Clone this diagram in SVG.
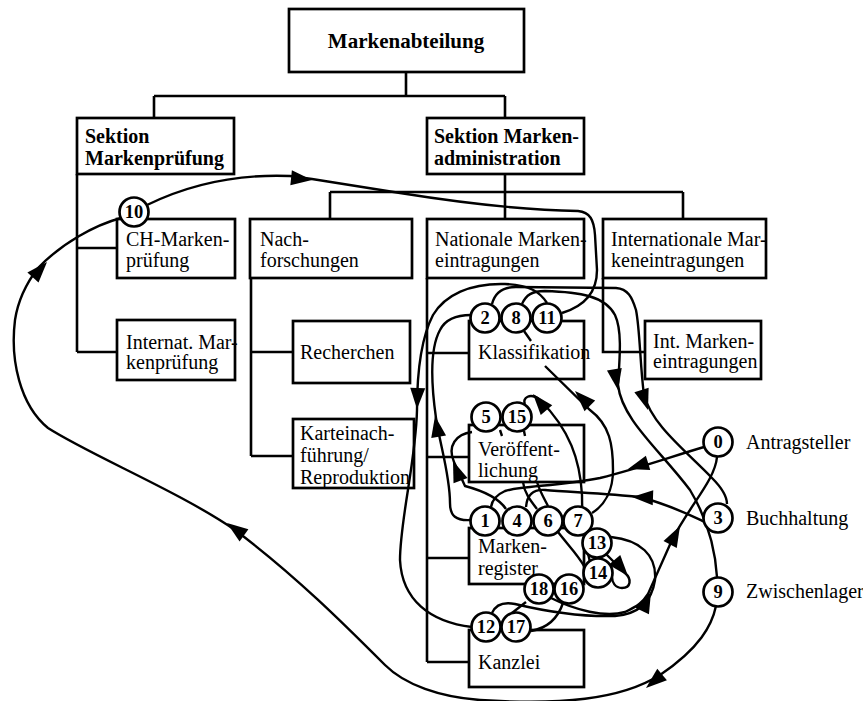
<svg xmlns="http://www.w3.org/2000/svg" xmlns:xlink="http://www.w3.org/1999/xlink" width="863" height="701" viewBox="0 0 863 701">
<style>
  .box{fill:#fff;stroke:#000;stroke-width:2.7}
  .tree{fill:none;stroke:#000;stroke-width:2.6}
  .flow{fill:none;stroke:#000;stroke-width:2.4}
  .t{font-family:"Liberation Serif","Times New Roman",serif;font-size:20px;fill:#000}
  .b{font-weight:bold}
  .st circle{fill:#fff;stroke:#000;stroke-width:2.7}
  .st text{font-family:"Liberation Serif","Times New Roman",serif;font-size:18.5px;font-weight:bold;text-anchor:middle;fill:#000}
</style>
<defs>
  <path id="ah" d="M0,0 L-21,-7.5 L-21,7.5 Z" fill="#000"/>
</defs>
<rect width="863" height="701" fill="#fff"/>

<!-- organisation tree connectors -->
<g id="tree" class="tree">
  <path d="M406,72 V96 M154,96 H505 M154,96 V118 M505,96 V118"/>
  <path d="M77,174 V352 M77,248 H117 M77,352 H117"/>
  <path d="M505,174 V219 M330,192 H683 M330,192 V219 M683,192 V219"/>
  <path d="M251,278 V456 M251,352 H293 M251,456 H293"/>
  <path d="M427,278 V662 M427,353 H469 M427,457 H469 M427,558 H469 M427,662 H469"/>
  <path d="M603,278 V352 H645"/>
</g>

<!-- boxes -->
<g id="n-markenabteilung"><rect class="box" x="289" y="9" width="235" height="63"/><text class="t b" x="406" y="48" text-anchor="middle" style="font-size:21px">Markenabteilung</text></g>
<g id="n-sektion-pruefung"><rect class="box" x="77" y="118" width="157" height="56"/><text class="t b" x="85" y="143">Sektion</text><text class="t b" x="85" y="165">Markenprüfung</text></g>
<g id="n-sektion-admin"><rect class="box" x="427" y="118" width="157" height="56"/><text class="t b" x="434" y="143">Sektion Marken-</text><text class="t b" x="434" y="165">administration</text></g>
<g id="n-ch"><rect class="box" x="117" y="219" width="118" height="59"/><text class="t" x="126" y="246">CH-Marken-</text><text class="t" x="126" y="267">prüfung</text></g>
<g id="n-internat"><rect class="box" x="117" y="320" width="118" height="60"/><text class="t" x="126" y="349">Internat. Mar-</text><text class="t" x="126" y="369">kenprüfung</text></g>
<g id="n-nachforschungen"><rect class="box" x="250" y="219" width="162" height="59"/><text class="t" x="260" y="246">Nach-</text><text class="t" x="260" y="267">forschungen</text></g>
<g id="n-recherchen"><rect class="box" x="293" y="321" width="117" height="62"/><text class="t" x="300" y="359">Recherchen</text></g>
<g id="n-kartei"><rect class="box" x="293" y="419" width="121" height="69"/><text class="t" x="300" y="440">Karteinach-</text><text class="t" x="300" y="462">führung/</text><text class="t" x="300" y="484">Reproduktion</text></g>
<g id="n-national"><rect class="box" x="427" y="219" width="157" height="59"/><text class="t" x="435" y="246">Nationale Marken-</text><text class="t" x="435" y="267">eintragungen</text></g>
<g id="n-international"><rect class="box" x="603" y="219" width="163" height="59"/><text class="t" x="611" y="246">Internationale Mar-</text><text class="t" x="611" y="267">keneintragungen</text></g>
<g id="n-intmarken"><rect class="box" x="645" y="321" width="116" height="58"/><text class="t" x="653" y="348">Int. Marken-</text><text class="t" x="653" y="368">eintragungen</text></g>
<g id="n-klassifikation"><rect class="box" x="469" y="321" width="115" height="58"/><text class="t" x="478" y="359">Klassifikation</text></g>
<g id="n-veroeffentlichung"><rect class="box" x="469" y="425" width="115" height="57"/><text class="t" x="478" y="456">Veröffent-</text><text class="t" x="478" y="477">lichung</text></g>
<g id="n-markenregister"><rect class="box" x="469" y="528" width="115" height="56"/><text class="t" x="478" y="553">Marken-</text><text class="t" x="478" y="575">register</text></g>
<g id="n-kanzlei"><rect class="box" x="469" y="630" width="115" height="57"/><text class="t" x="478" y="669">Kanzlei</text></g>

<!-- outside parties -->
<g id="n-antragsteller"><text class="t" x="746" y="449">Antragsteller</text></g>
<g id="n-buchhaltung"><text class="t" x="746" y="525">Buchhaltung</text></g>
<g id="n-zwischenlager"><text class="t" x="746" y="598">Zwischenlager</text></g>

<!-- process flow -->
<g id="connectors">
  <g class="flow">
    <!-- 0 to 1 -->
    <path d="M704,447 C670,457 640,468 600,478 C560,486 520,486 505,491 C496,495 492,500 491,507"/>
    <!-- 1 to 2 -->
    <path d="M471,520 C456,521 450,516 450,503 C450,475 440,445 436,418 C432,390 429,350 440,330 C446,318 458,315 471,315"/>
    <!-- 2 to 3 -->
    <path d="M492,304 C495,292 503,287 516,287 L616,288 C628,289 632,297 636,310 C640,330 640,365 644,395 C652,425 685,450 712,478 C724,490 727,498 727,504"/>
    <!-- 3 to 4 -->
    <path d="M705,522 C690,515 670,505 640,497 C610,494 570,492 545,490 C533,489 527,495 526,507"/>
    <!-- 4 to 5 -->
    <path d="M506,509 C498,497 480,490 465,486 L454,462 C447,446 456,434 472,432"/>
    <!-- 5 to 6 (partly hidden behind the box) -->
    <path d="M500,430 L502,436 M523,482 C524,492 530,500 537,509"/>
    <!-- 7 to 8 -->
    <path d="M592,513 C605,505 613,490 613,470 C613,445 610,425 590,410 L545,366 M531,341 L524,331"/>
    <!-- 8 to 9 -->
    <path d="M522,304 C526,295 532,291 545,291 C580,292 605,296 615,315 C622,330 620,355 618,385 C622,420 660,450 690,490 C705,515 715,545 717,577"/>
    <!-- 9 to 10 -->
    <path d="M716,606 C712,625 700,648 660,675 C620,700 560,705 480,700 C440,697 405,685 385,665 C345,625 295,575 235,530 C180,492 90,455 48,428 C20,405 10,360 15,320 C18,300 25,285 38,268 C62,243 95,225 121,218"/>
    <!-- 10 to 11 -->
    <path d="M147,205 C190,184 240,174 290,176 L312,179 L400,193 C450,201 520,210 578,211 C590,212 594,220 595,235 L597,270 C597,292 585,306 562,313"/>
    <!-- 11 to 12 -->
    <path d="M547,303 C540,292 530,285 505,284 C470,283 445,295 433,315 C420,340 417,380 417,410 C416,460 400,520 400,560 C402,600 430,622 472,627"/>
    <!-- 12 to 13 -->
    <path d="M492,613 C496,604 505,602 515,604 C540,610 580,617 615,616 C640,614 652,600 655,580 C657,555 640,540 611,537"/>
    <!-- 13 to 14 -->
    <path d="M606,554 L625,573 C632,579 631,588 622,588 C615,588 612,582 612,577"/>
    <!-- 14 to 15 -->
    <path d="M590,562 C584,540 582,520 582,495 C580,460 570,430 540,400 C530,392 522,398 525,404"/>
    <!-- 15 to 16 (partly hidden behind the box) -->
    <path d="M524,431 L525,436 M537,482 C540,492 545,500 548,506 M558,532 C568,545 578,555 584,566"/>
    <!-- 16 to 17 -->
    <path d="M563,603 C558,618 548,628 531,631"/>
    <!-- 17 to 18 -->
    <path d="M512,613 L526,602"/>
    <!-- 18 to 0 -->
    <path d="M551,598 C575,610 605,618 625,612 C638,606 643,602 648,594 L672,540 C690,505 715,480 717,457"/>
  </g>
  <!-- arrowheads -->
  <use xlink:href="#ah" transform="translate(628,469) rotate(163)"/>
  <use xlink:href="#ah" transform="translate(435,416) rotate(-100)"/>
  <use xlink:href="#ah" transform="translate(648,410) rotate(72)"/>
  <use xlink:href="#ah" transform="translate(632,497) rotate(182)"/>
  <use xlink:href="#ah" transform="translate(453,461) rotate(-111)"/>
  <use xlink:href="#ah" transform="translate(575,391) rotate(-135)"/>
  <use xlink:href="#ah" transform="translate(618,390) rotate(80)"/>
  <use xlink:href="#ah" transform="translate(646,688) rotate(140)"/>
  <use xlink:href="#ah" transform="translate(227,523) rotate(-144)"/>
  <use xlink:href="#ah" transform="translate(47,262) rotate(-48)"/>
  <use xlink:href="#ah" transform="translate(312,180) rotate(6)"/>
  <use xlink:href="#ah" transform="translate(417,409) rotate(92)"/>
  <use xlink:href="#ah" transform="translate(628,576) rotate(50)"/>
  <use xlink:href="#ah" transform="translate(533,394) rotate(-130)"/>
  <use xlink:href="#ah" transform="translate(651,592) rotate(-65)"/>
  <use xlink:href="#ah" transform="translate(680,526) rotate(-62)"/>
</g>

<!-- numbered process steps -->
<g class="st">
  <g id="s0"><circle cx="718" cy="442" r="14.5"/><text x="718" y="448">0</text></g>
  <g id="s1"><circle cx="485" cy="521" r="14.5"/><text x="485" y="527">1</text></g>
  <g id="s2"><circle cx="485" cy="318" r="14.5"/><text x="485" y="324">2</text></g>
  <g id="s3"><circle cx="718" cy="518" r="14.5"/><text x="718" y="524">3</text></g>
  <g id="s4"><circle cx="517" cy="521" r="14.5"/><text x="517" y="527">4</text></g>
  <g id="s5"><circle cx="486" cy="417" r="14.5"/><text x="486" y="423">5</text></g>
  <g id="s6"><circle cx="548" cy="521" r="14.5"/><text x="548" y="527">6</text></g>
  <g id="s7"><circle cx="578" cy="521" r="14.5"/><text x="578" y="527">7</text></g>
  <g id="s8"><circle cx="516" cy="318" r="14.5"/><text x="516" y="324">8</text></g>
  <g id="s9"><circle cx="718" cy="592" r="14.5"/><text x="718" y="598">9</text></g>
  <g id="s10"><circle cx="134" cy="212" r="14.5"/><text x="134" y="218">10</text></g>
  <g id="s11"><circle cx="547" cy="318" r="14.5"/><text x="547" y="324">11</text></g>
  <g id="s12"><circle cx="486" cy="627" r="14.5"/><text x="486" y="633">12</text></g>
  <g id="s13"><circle cx="597" cy="543" r="14.5"/><text x="597" y="549">13</text></g>
  <g id="s14"><circle cx="598" cy="573" r="14.5"/><text x="598" y="579">14</text></g>
  <g id="s15"><circle cx="517" cy="417" r="14.5"/><text x="517" y="423">15</text></g>
  <g id="s16"><circle cx="569" cy="589" r="14.5"/><text x="569" y="595">16</text></g>
  <g id="s17"><circle cx="516" cy="627" r="14.5"/><text x="516" y="633">17</text></g>
  <g id="s18"><circle cx="539" cy="589" r="14.5"/><text x="539" y="595">18</text></g>
</g>
</svg>
